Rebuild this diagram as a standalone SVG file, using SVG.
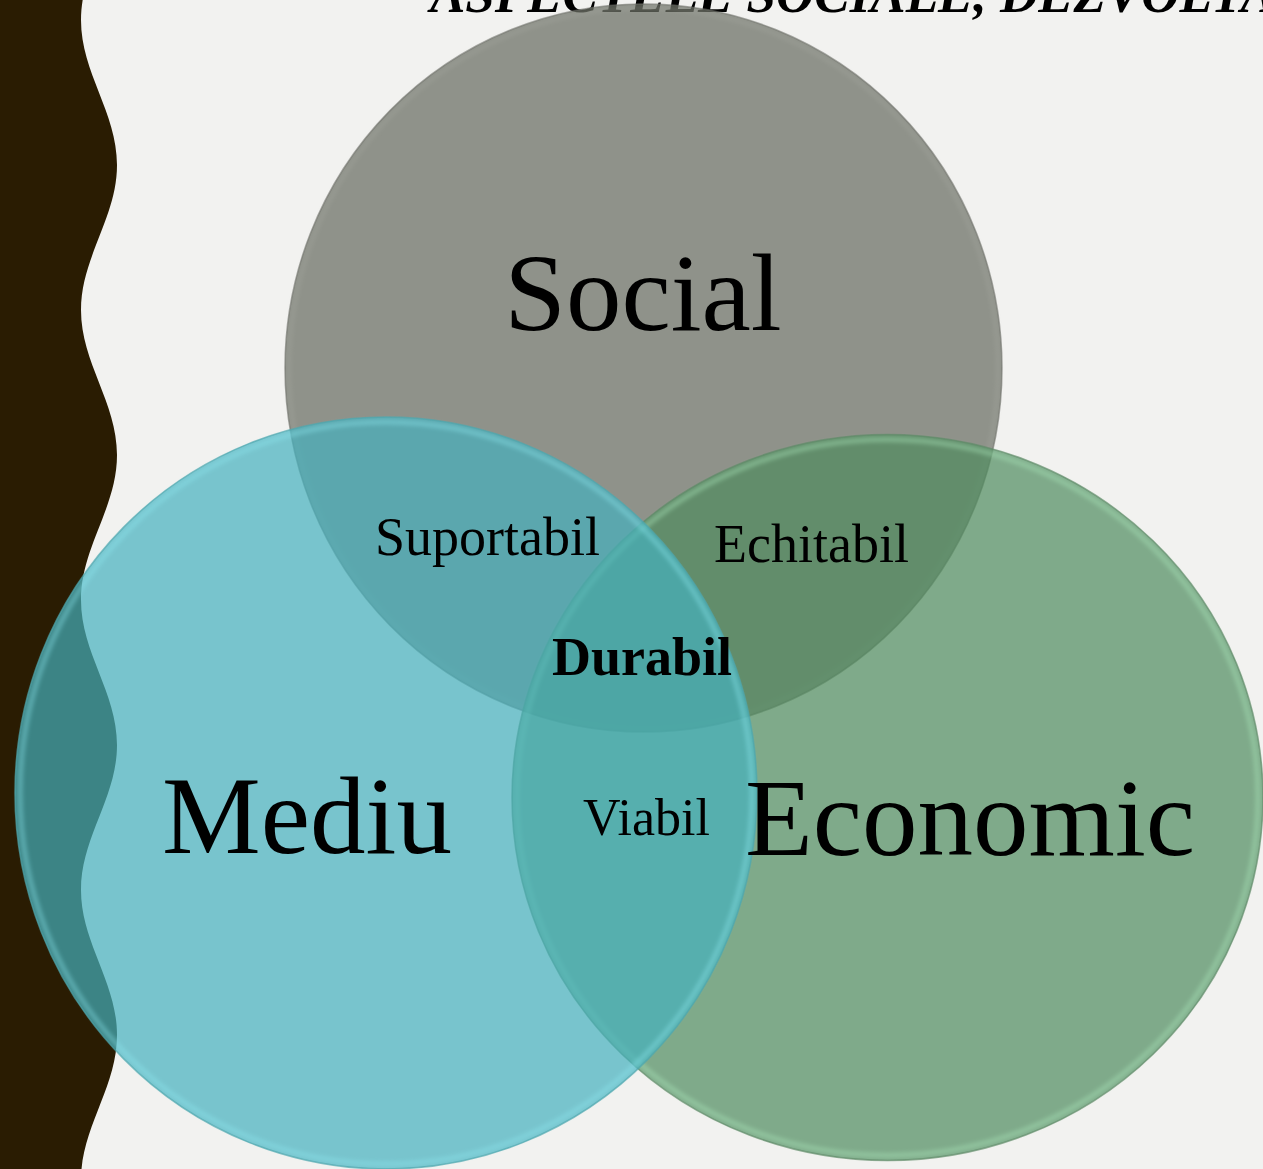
<svg xmlns="http://www.w3.org/2000/svg" width="1263" height="1169" viewBox="0 0 1263 1169">
<defs>
<style>
.lbl{font-family:"Liberation Serif","Times New Roman",serif;fill:#000}
.big{font-size:111px}
.title{font-family:"Liberation Serif","Times New Roman",serif;font-size:53px;font-weight:bold;font-style:italic;fill:#000}
.c{opacity:0.7}
</style>
<filter id="soft" x="-5%" y="-5%" width="110%" height="110%"><feGaussianBlur stdDeviation="2"/></filter>
</defs>
<rect width="1263" height="1169" fill="#f2f2f0"/>
<path d="M0,-125 L117,-125 C117,-72.2 81,-32.8 81,20 C81,72.8 117,112.2 117,165 C117,217.8 81,257.2 81,310 C81,362.8 117,402.2 117,455 C117,507.8 81,547.2 81,600 C81,652.8 117,692.2 117,745 C117,797.8 81,837.2 81,890 C81,942.8 117,982.2 117,1035 C117,1087.8 81,1127.2 81,1180 L0,1180 Z" fill="#2a1c02"/>
<text class="title" x="430" y="12">ASPECTELE SOCIALE, DEZVOLTA</text>
<g id="social">
<g class="c">
<ellipse cx="643.5" cy="368" rx="358.5" ry="364" fill="#65695e"/>
</g>
<ellipse cx="643.5" cy="368" rx="354.5" ry="360" fill="none" stroke="#b0b2aa" stroke-width="4" opacity="0.25" filter="url(#soft)"/>
<ellipse cx="643.5" cy="368" rx="358.5" ry="364" fill="none" stroke="#6f716a" stroke-width="1.5" opacity="0.6"/>
</g>
<g id="economic">
<g class="c">
<ellipse cx="887.5" cy="797.5" rx="375.5" ry="363" fill="#4f8b5e"/>
</g>
<ellipse cx="887.5" cy="797.5" rx="370.5" ry="358" fill="none" stroke="#a8e4b8" stroke-width="5" opacity="0.45" filter="url(#soft)"/>
<ellipse cx="887.5" cy="797.5" rx="375.5" ry="363" fill="none" stroke="#5f8a68" stroke-width="1.5" opacity="0.7"/>
</g>
<g id="mediu">
<g class="c">
<ellipse cx="386" cy="793" rx="371" ry="376" fill="#45b0bd"/>
</g>
<ellipse cx="386" cy="793" rx="366" ry="371" fill="none" stroke="#8ee8f0" stroke-width="5" opacity="0.4" filter="url(#soft)"/>
<ellipse cx="386" cy="793" rx="371" ry="376" fill="none" stroke="#4fa6ae" stroke-width="1.5" opacity="0.7"/>
</g>
<g id="labels">
<text class="lbl big" x="643" y="330" text-anchor="middle">Social</text>
<text class="lbl big" x="307" y="853" text-anchor="middle">Mediu</text>
<text class="lbl big" x="970" y="855" text-anchor="middle">Economic</text>
<text class="lbl" x="375" y="555" font-size="54">Suportabil</text>
<text class="lbl" x="714" y="562" font-size="54">Echitabil</text>
<text class="lbl" x="552" y="675" font-size="54" font-weight="bold">Durabil</text>
<text class="lbl" x="583" y="835" font-size="52">Viabil</text>
</g>
</svg>
